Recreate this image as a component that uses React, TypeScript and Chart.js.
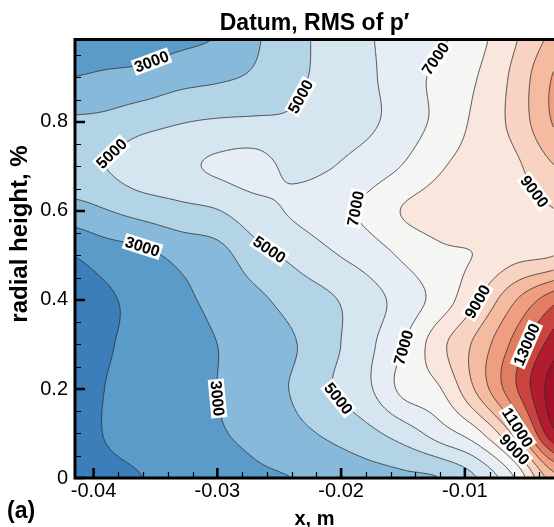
import React, { useEffect, useRef } from 'react';
import { Chart, registerables } from 'chart.js';

Chart.register(...registerables);

const FONT = "'Liberation Sans', Arial, Helvetica, sans-serif";

const TITLE = 'Datum, RMS of p\u2032';
const X_TITLE = 'x, m';
const Y_TITLE = 'radial height, %';
const PANEL_TAG = '(a)';

// axis ranges and tick spacing
const X_MIN = -0.0415;
const X_MAX = -0.0028;
const Y_MIN = 0;
const Y_MAX = 0.985;
const X_STEP = 0.01;
const X_MINOR = 0.002;
const Y_STEP = 0.2;
const Y_MINOR = 0.05;

// measurement grid: x positions (m) and radial heights
const gridX = [-0.042, -0.039, -0.036, -0.033, -0.03, -0.027, -0.024, -0.021, -0.018, -0.015, -0.012, -0.009, -0.006, -0.003, 0];
const gridY = [0, 0.1, 0.2, 0.3, 0.4, 0.5, 0.6, 0.7, 0.8, 0.9, 1.0];

// RMS of p' (Pa) on each grid row, from y = 0 (bottom) to y = 1.0 (top)
const rmsY00 = [1300, 1750, 2000, 2250, 2550, 2850, 3000, 3300, 3600, 3800, 4000, 5000, 7000, 10500, 12000];
const rmsY01 = [1350, 2050, 2300, 2550, 2900, 3250, 3700, 4150, 4700, 5450, 6500, 7700, 10300, 14600, 16000];
const rmsY02 = [1400, 2020, 2350, 2650, 3000, 3550, 4050, 4900, 5750, 7250, 7950, 10200, 12800, 15400, 16800];
const rmsY03 = [1400, 1900, 2300, 2650, 3000, 3450, 3900, 4700, 5700, 6950, 8700, 10300, 12300, 14400, 16000];
const rmsY04 = [1500, 1850, 2350, 2800, 3250, 3750, 4350, 4850, 5550, 6400, 7450, 8950, 10900, 12600, 14000];
const rmsY05 = [1980, 2450, 2750, 3250, 3600, 4600, 5200, 5850, 6400, 7150, 7800, 8050, 8700, 8950, 9800];
const rmsY06 = [3550, 3950, 4350, 4700, 4950, 5600, 6100, 6550, 7200, 8050, 8400, 8600, 8700, 8950, 9400];
const rmsY07 = [4800, 5000, 5600, 5800, 6150, 6350, 5800, 5950, 6400, 7050, 7900, 8400, 8800, 9900, 10800];
const rmsY08 = [4150, 4250, 4650, 4950, 5100, 5150, 5150, 5550, 5800, 6450, 7300, 8250, 9300, 11000, 12300];
const rmsY09 = [3000, 3170, 3300, 3650, 3850, 4150, 4750, 5300, 5800, 6500, 7280, 8000, 9250, 11000, 12200];
const rmsY10 = [2300, 2350, 2500, 2700, 3000, 3850, 4550, 5400, 5900, 6350, 6800, 7650, 8850, 10150, 11000];
const rmsRows = [rmsY00, rmsY01, rmsY02, rmsY03, rmsY04, rmsY05, rmsY06, rmsY07, rmsY08, rmsY09, rmsY10];

// contour levels and band colours (band i lies below levels[i])
const levels = [2000, 3000, 4000, 5000, 6000, 7000, 8000, 9000, 10000, 11000, 12000, 13000, 14000, 15000];
const bandColors = [
  '#3b7eba', '#5b9bc9', '#87bada', '#b3d4e7', '#d5e6f0', '#e6edf4', '#f5f5f4',
  '#f9e6dd', '#f8d3c2', '#f5bba1', '#f09e80', '#e17d61', '#c9443f', '#b11c2e', '#a11027',
];

// inline contour labels
const labelX = [-0.0352, -0.0388, -0.0362, -0.0229, -0.019, -0.0261, -0.0303, -0.0201, -0.0126, -0.0041, -0.0088, -0.015, -0.00464, -0.00529, -0.00585];
const labelY = [0.92, 0.737, 0.518, 0.852, 0.608, 0.509, 0.179, 0.186, 0.947, 0.653, 0.398, 0.292, 0.297, 0.119, 0.067];
const labelLevel = [3000, 5000, 3000, 5000, 7000, 5000, 3000, 5000, 7000, 9000, 9000, 7000, 13000, 11000, 9000];

function catmull(p0: number, p1: number, p2: number, p3: number, t: number) {
  return 0.5 * (2 * p1 + (-p0 + p2) * t + (2 * p0 - 5 * p1 + 4 * p2 - p3) * t * t + (-p0 + 3 * p1 - 3 * p2 + p3) * t * t * t);
}

function fieldAt(x: number, y: number) {
  const nx = gridX.length;
  const ny = gridY.length;
  const dx = gridX[1] - gridX[0];
  const dy = gridY[1] - gridY[0];
  const fx = (x - gridX[0]) / dx;
  const fy = (y - gridY[0]) / dy;
  let i = Math.floor(fx);
  let j = Math.floor(fy);
  i = Math.max(0, Math.min(nx - 2, i));
  j = Math.max(0, Math.min(ny - 2, j));
  const tx = fx - i;
  const ty = fy - j;
  const ci = (k: number) => Math.max(0, Math.min(nx - 1, k));
  const cj = (k: number) => Math.max(0, Math.min(ny - 1, k));
  const r: number[] = [];
  for (let m = -1; m <= 2; m++) {
    const row = rmsRows[cj(j + m)];
    r.push(catmull(row[ci(i - 1)], row[ci(i)], row[ci(i + 1)], row[ci(i + 2)], tx));
  }
  return catmull(r[0], r[1], r[2], r[3], ty);
}

function hexToRgb(h: string) {
  const n = parseInt(h.slice(1), 16);
  return [(n >> 16) & 255, (n >> 8) & 255, n & 255];
}

const contourPlugin = {
  id: 'contourField',
  beforeDraw(chart: any) {
    const { ctx, chartArea } = chart;
    const xs = chart.scales.x;
    const ys = chart.scales.y;
    const L = Math.round(chartArea.left);
    const T = Math.round(chartArea.top);
    const R = Math.round(chartArea.right);
    const B = Math.round(chartArea.bottom);
    const w = R - L;
    const h = B - T;
    if (w <= 0 || h <= 0) return;
    const F = new Float32Array(w * h);
    const colX: number[] = [];
    for (let i = 0; i < w; i++) colX.push(xs.getValueForPixel(L + i + 0.5));
    for (let j = 0; j < h; j++) {
      const yv = ys.getValueForPixel(T + j + 0.5);
      for (let i = 0; i < w; i++) F[j * w + i] = fieldAt(colX[i], yv);
    }
    // filled bands
    const rgb = bandColors.map(hexToRgb);
    const off = document.createElement('canvas');
    off.width = w;
    off.height = h;
    const octx = off.getContext('2d')!;
    const img = octx.createImageData(w, h);
    for (let k = 0; k < w * h; k++) {
      const v = F[k];
      let b = 0;
      while (b < levels.length && v >= levels[b]) b++;
      const c = rgb[b];
      img.data[k * 4] = c[0];
      img.data[k * 4 + 1] = c[1];
      img.data[k * 4 + 2] = c[2];
      img.data[k * 4 + 3] = 255;
    }
    octx.putImageData(img, 0, 0);
    ctx.save();
    ctx.drawImage(off, L, T);
    ctx.beginPath();
    ctx.rect(L, T, w, h);
    ctx.clip();
    // contour lines (marching squares)
    const s = 2;
    ctx.beginPath();
    for (const lev of levels) {
      for (let j = 0; j + s < h; j += s) {
        for (let i = 0; i + s < w; i += s) {
          const a = F[j * w + i];
          const b = F[j * w + i + s];
          const c = F[(j + s) * w + i + s];
          const d = F[(j + s) * w + i];
          const code = (a >= lev ? 8 : 0) | (b >= lev ? 4 : 0) | (c >= lev ? 2 : 0) | (d >= lev ? 1 : 0);
          if (code === 0 || code === 15) continue;
          const x0 = L + i + 0.5;
          const y0 = T + j + 0.5;
          const top = () => [x0 + (s * (lev - a)) / (b - a), y0];
          const right = () => [x0 + s, y0 + (s * (lev - b)) / (c - b)];
          const bottom = () => [x0 + (s * (lev - d)) / (c - d), y0 + s];
          const left = () => [x0, y0 + (s * (lev - a)) / (d - a)];
          const seg = (p: number[], q: number[]) => {
            ctx.moveTo(p[0], p[1]);
            ctx.lineTo(q[0], q[1]);
          };
          switch (code) {
            case 1: case 14: seg(left(), bottom()); break;
            case 2: case 13: seg(bottom(), right()); break;
            case 3: case 12: seg(left(), right()); break;
            case 4: case 11: seg(top(), right()); break;
            case 6: case 9: seg(top(), bottom()); break;
            case 7: case 8: seg(left(), top()); break;
            case 5: seg(left(), top()); seg(bottom(), right()); break;
            case 10: seg(top(), right()); seg(left(), bottom()); break;
          }
        }
      }
    }
    ctx.lineWidth = 0.8;
    ctx.strokeStyle = '#2b2b2b';
    ctx.stroke();
    // contour labels
    ctx.font = `bold 16px ${FONT}`;
    ctx.textAlign = 'center';
    ctx.textBaseline = 'middle';
    const val = (i: number, j: number) => F[Math.max(0, Math.min(h - 1, j)) * w + Math.max(0, Math.min(w - 1, i))];
    for (let k = 0; k < labelX.length; k++) {
      const lev = labelLevel[k];
      const pi = Math.round(xs.getPixelForValue(labelX[k]) - L);
      const pj = Math.round(ys.getPixelForValue(labelY[k]) - T);
      // snap onto the drawn contour of this level
      let best = Infinity;
      let bi = pi;
      let bj = pj;
      for (let dj = -14; dj <= 14; dj++) {
        for (let di = -14; di <= 14; di++) {
          const ii = pi + di;
          const jj = pj + dj;
          if (ii < 2 || jj < 2 || ii > w - 3 || jj > h - 3) continue;
          const score = Math.abs(val(ii, jj) - lev) / 60 + Math.hypot(di, dj) * 0.15;
          if (score < best) {
            best = score;
            bi = ii;
            bj = jj;
          }
        }
      }
      const gx = val(bi + 3, bj) - val(bi - 3, bj);
      const gy = val(bi, bj + 3) - val(bi, bj - 3);
      let ang = Math.atan2(gx, -gy);
      if (ang > Math.PI / 2) ang -= Math.PI;
      if (ang < -Math.PI / 2) ang += Math.PI;
      const text = String(lev);
      const tw = ctx.measureText(text).width;
      ctx.save();
      ctx.translate(L + bi + 0.5, T + bj + 0.5);
      ctx.rotate(ang);
      ctx.fillStyle = '#ffffff';
      ctx.fillRect(-tw / 2 - 1.5, -8, tw + 3, 16);
      ctx.fillStyle = '#000000';
      ctx.fillText(text, 0, 1);
      ctx.restore();
    }
    ctx.restore();
  },
  afterDraw(chart: any) {
    const { ctx, chartArea } = chart;
    const xs = chart.scales.x;
    const ys = chart.scales.y;
    const { left, top, right, bottom } = chartArea;
    ctx.save();
    ctx.strokeStyle = '#000';
    // minor ticks
    ctx.lineWidth = 1.2;
    ctx.beginPath();
    for (let v = Math.ceil(X_MIN / X_MINOR) * X_MINOR; v <= X_MAX; v += X_MINOR) {
      const r = Math.round(v / X_MINOR);
      if (r % 5 === 0) continue;
      const p = Math.round(xs.getPixelForValue(r * X_MINOR)) + 0.5;
      ctx.moveTo(p, bottom);
      ctx.lineTo(p, bottom - 6);
    }
    for (let v = 0; v <= Y_MAX; v += Y_MINOR) {
      const r = Math.round(v / Y_MINOR);
      if (r % 4 === 0) continue;
      const p = Math.round(ys.getPixelForValue(r * Y_MINOR)) + 0.5;
      ctx.moveTo(left, p);
      ctx.lineTo(left + 6, p);
    }
    ctx.stroke();
    // major ticks
    ctx.lineWidth = 2.6;
    ctx.beginPath();
    for (const t of xs.ticks) {
      const p = xs.getPixelForValue(t.value);
      ctx.moveTo(p, bottom);
      ctx.lineTo(p, bottom - 10);
    }
    for (const t of ys.ticks) {
      const p = ys.getPixelForValue(t.value);
      ctx.moveTo(left, p);
      ctx.lineTo(left + 10, p);
    }
    ctx.stroke();
    // frame (right side lies beyond the picture)
    ctx.lineWidth = 3;
    ctx.beginPath();
    ctx.moveTo(right + 2, top);
    ctx.lineTo(left, top);
    ctx.lineTo(left, bottom);
    ctx.lineTo(right + 2, bottom);
    ctx.stroke();
    // y axis title
    ctx.fillStyle = '#000';
    ctx.font = `bold 24px ${FONT}`;
    ctx.textAlign = 'center';
    ctx.textBaseline = 'middle';
    ctx.save();
    ctx.translate(20, 234);
    ctx.rotate(-Math.PI / 2);
    ctx.fillText(Y_TITLE, 0, 0);
    ctx.restore();
    // panel tag
    ctx.font = `bold 23px ${FONT}`;
    ctx.textAlign = 'left';
    ctx.textBaseline = 'alphabetic';
    ctx.fillText(PANEL_TAG, 7, 518);
    ctx.restore();
  },
};

export default function App() {
  const ref = useRef<HTMLCanvasElement | null>(null);
  useEffect(() => {
    const canvas = ref.current;
    if (!canvas) return;
    const gridPoints: { x: number; y: number }[] = [];
    rmsRows.forEach((row, j) => row.forEach((_, i) => gridPoints.push({ x: gridX[i], y: gridY[j] })));
    const chart = new Chart(canvas, {
      type: 'scatter',
      data: {
        datasets: [
          { label: 'grid', data: gridPoints, pointRadius: 0, pointHoverRadius: 0, showLine: false },
        ],
      },
      options: {
        responsive: false,
        animation: false,
        devicePixelRatio: 1,
        layout: { padding: 0 },
        events: [],
        plugins: {
          legend: { display: false },
          tooltip: { enabled: false },
          title: {
            display: true,
            text: TITLE,
            fullSize: false,
            color: '#000',
            font: { family: FONT, size: 23, weight: 'bold' },
            padding: { top: 10, bottom: 2 },
          },
        },
        scales: {
          x: {
            type: 'linear',
            position: 'bottom',
            min: X_MIN,
            max: X_MAX,
            grid: { display: false, drawTicks: false },
            border: { display: false },
            ticks: {
              stepSize: X_STEP,
              includeBounds: false,
              maxRotation: 0,
              autoSkip: false,
              padding: 1,
              color: '#000',
              font: { family: FONT, size: 20 },
              callback: (v: any) => Number(v).toFixed(2),
            },
            title: {
              display: true,
              text: X_TITLE,
              color: '#000',
              font: { family: FONT, size: 20, weight: 'bold' },
              padding: { top: 0, bottom: -4 },
            },
            afterFit: (s: any) => {
              s.height = 49;
            },
          },
          y: {
            type: 'linear',
            position: 'left',
            min: Y_MIN,
            max: Y_MAX,
            grid: { display: false, drawTicks: false },
            border: { display: false },
            ticks: {
              stepSize: Y_STEP,
              includeBounds: false,
              autoSkip: false,
              padding: 7,
              color: '#000',
              font: { family: FONT, size: 20 },
              callback: (v: any) => (Number(v) === 0 ? '0' : Number(v).toFixed(1)),
            },
            title: { display: false, text: Y_TITLE },
            afterFit: (s: any) => {
              s.width = 75;
            },
          },
        },
      },
      plugins: [contourPlugin],
    } as any);
    return () => chart.destroy();
  }, []);
  return (
    <div style={{ position: 'fixed', left: 0, top: 0, width: 554, height: 527, overflow: 'hidden', background: '#fff' }}>
      <canvas ref={ref} width={554} height={527} style={{ display: 'block' }} />
    </div>
  );
}
